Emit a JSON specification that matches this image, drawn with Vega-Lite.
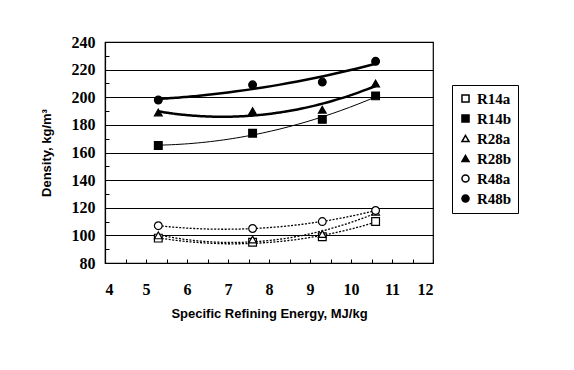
{
  "$schema": "https://vega.github.io/schema/vega-lite/v6.json",
  "autosize": {"type": "none"},
  "width": 328,
  "height": 221,
  "padding": {"left": 105, "top": 42, "right": 141, "bottom": 107},
  "background": "white",
  "config": {
    "view": {"stroke": "black", "strokeWidth": 1.2},
    "axis": {"domainColor": "black", "tickColor": "black", "labelColor": "black", "titleColor": "black"}
  },
  "data": {
    "values": [
      {"series": "R14a", "x": 5.3, "y": 98},
      {"series": "R14a", "x": 7.6, "y": 95},
      {"series": "R14a", "x": 9.3, "y": 99},
      {"series": "R14a", "x": 10.6, "y": 110},
      {"series": "R14b", "x": 5.3, "y": 165},
      {"series": "R14b", "x": 7.6, "y": 174},
      {"series": "R14b", "x": 9.3, "y": 184},
      {"series": "R14b", "x": 10.6, "y": 201},
      {"series": "R28a", "x": 5.3, "y": 100},
      {"series": "R28a", "x": 7.6, "y": 97},
      {"series": "R28a", "x": 9.3, "y": 101},
      {"series": "R28a", "x": 10.6, "y": 117},
      {"series": "R28b", "x": 5.3, "y": 189},
      {"series": "R28b", "x": 7.6, "y": 190},
      {"series": "R28b", "x": 9.3, "y": 191},
      {"series": "R28b", "x": 10.6, "y": 210},
      {"series": "R48a", "x": 5.3, "y": 107},
      {"series": "R48a", "x": 7.6, "y": 105},
      {"series": "R48a", "x": 9.3, "y": 110},
      {"series": "R48a", "x": 10.6, "y": 118},
      {"series": "R48b", "x": 5.3, "y": 198},
      {"series": "R48b", "x": 7.6, "y": 209},
      {"series": "R48b", "x": 9.3, "y": 211},
      {"series": "R48b", "x": 10.6, "y": 226}
    ]
  },
  "encoding": {
    "x": {
      "field": "x", "type": "quantitative",
      "scale": {"domain": [4, 12], "nice": false, "zero": false},
      "axis": {
        "title": "Specific Refining Energy, MJ/kg",
        "titleFont": "Liberation Sans", "titleFontSize": 13, "titleFontWeight": "bold", "titlePadding": 10,
        "labelFont": "serif", "labelFontSize": 16, "labelFontWeight": "bold", "labelOverlap": false,
        "values": [4, 4.5, 5, 5.5, 6, 6.5, 7, 7.5, 8, 8.5, 9, 9.5, 10, 10.5, 11, 11.5, 12],
        "labelExpr": "datum.value % 1 == 0 ? format(datum.value, 'd') : ''",
        "tickSize": -4, "labelPadding": 22, "grid": false, "domainWidth": 1.2
      }
    },
    "y": {
      "field": "y", "type": "quantitative",
      "scale": {"domain": [80, 240], "nice": false, "zero": false},
      "axis": {
        "title": "Density, kg/m³",
        "titleFont": "Liberation Sans", "titleFontSize": 13, "titleFontWeight": "bold", "titlePadding": 18,
        "labelFont": "serif", "labelFontSize": 16, "labelFontWeight": "bold", "labelOverlap": false,
        "values": [80, 90, 100, 110, 120, 130, 140, 150, 160, 170, 180, 190, 200, 210, 220, 230, 240],
        "labelExpr": "datum.value % 20 == 0 ? datum.label : ''",
        "tickSize": -4, "labelPadding": 14, "domainWidth": 1.2,
        "grid": true, "gridColor": "black", "gridWidth": 1,
        "gridOpacity": {"condition": {"test": "datum.value % 20 == 0", "value": 1}, "value": 0}
      }
    }
  },
  "layer": [
    {
      "transform": [
        {"filter": "datum.series == 'R28b' || datum.series == 'R48b'"},
        {"regression": "y", "on": "x", "groupby": ["series"], "method": "poly", "order": 2}
      ],
      "mark": {"type": "line", "color": "black", "strokeWidth": 2.5, "interpolate": "monotone"},
      "encoding": {"detail": {"field": "series"}}
    },
    {
      "transform": [
        {"filter": "datum.series == 'R14b'"},
        {"regression": "y", "on": "x", "groupby": ["series"], "method": "poly", "order": 2}
      ],
      "mark": {"type": "line", "color": "black", "strokeWidth": 1, "interpolate": "monotone"},
      "encoding": {"detail": {"field": "series"}}
    },
    {
      "transform": [
        {"filter": "datum.series == 'R14a' || datum.series == 'R28a' || datum.series == 'R48a'"},
        {"regression": "y", "on": "x", "groupby": ["series"], "method": "poly", "order": 2}
      ],
      "mark": {"type": "line", "color": "black", "strokeWidth": 1.3, "strokeDash": [2, 1.5], "interpolate": "monotone"},
      "encoding": {"detail": {"field": "series"}}
    },
    {
      "mark": {"type": "point", "stroke": "black", "strokeWidth": 1.2, "opacity": 1, "size": 60},
      "encoding": {
        "shape": {
          "field": "series", "type": "nominal",
          "scale": {"domain": ["R14a", "R14b", "R28a", "R28b", "R48a", "R48b"], "range": ["square", "square", "triangle-up", "triangle-up", "circle", "circle"]},
          "legend": {
            "title": null, "orient": "none", "legendX": 347, "legendY": 43,
            "strokeColor": "black", "padding": 6, "fillColor": "white",
            "labelFont": "serif", "labelFontSize": 15, "labelFontWeight": "bold", "labelColor": "black",
            "symbolSize": 50, "rowPadding": 4, "labelOffset": 4,
            "encode": {"symbols": {"update": {"stroke": {"value": "black"}, "strokeWidth": {"value": 1.1}}}}
          }
        },
        "fill": {
          "field": "series", "type": "nominal",
          "scale": {"domain": ["R14a", "R14b", "R28a", "R28b", "R48a", "R48b"], "range": ["white", "black", "white", "black", "white", "black"]}
        }
      }
    }
  ]
}
